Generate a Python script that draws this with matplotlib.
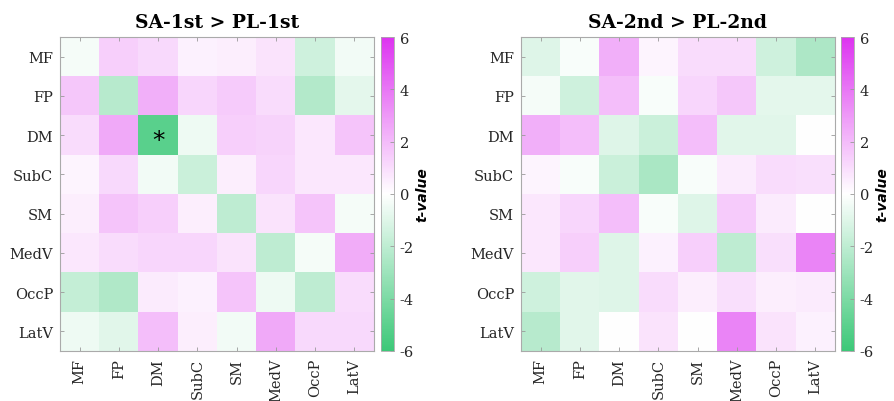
import numpy as np
import matplotlib
matplotlib.use("Agg")
import matplotlib.pyplot as plt
from matplotlib.colors import LinearSegmentedColormap

# network labels
labels = ["MF", "FP", "DM", "SubC", "SM", "MedV", "OccP", "LatV"]

# t-values (rows top->bottom, cols left->right)
t_first = np.array([
    [-0.3, 1.4, 1.1, 0.4, 0.5, 0.8, -1.5, -0.4],
    [1.6, -2.2, 2.3, 1.2, 1.5, 1.0, -2.3, -0.8],
    [1.0, 2.5, -5.1, -0.5, 1.4, 1.3, 0.7, 1.7],
    [0.3, 1.1, -0.4, -1.6, 0.5, 1.2, 0.7, 0.7],
    [0.5, 1.7, 1.4, 0.5, -2.0, 0.8, 1.7, -0.3],
    [0.7, 1.0, 1.2, 1.2, 0.8, -2.0, -0.3, 2.4],
    [-1.8, -2.4, 0.6, 0.4, 1.7, -0.5, -2.0, 1.0],
    [-0.5, -0.9, 1.9, 0.5, -0.4, 2.5, 1.1, 1.1],
])
t_second = np.array([
    [-1.0, -0.2, 2.3, 0.3, 1.0, 1.0, -1.5, -2.5],
    [-0.3, -1.5, 1.9, -0.2, 1.2, 1.6, -0.8, -0.8],
    [2.3, 1.9, -1.0, -1.6, 1.9, -0.9, -0.9, 0.0],
    [0.3, -0.2, -1.6, -2.6, -0.2, 0.6, 1.0, 0.9],
    [0.7, 1.2, 1.9, -0.2, -1.0, 1.5, 0.6, 0.0],
    [0.7, 1.4, -1.0, 0.4, 1.4, -2.0, 0.9, 3.6],
    [-1.5, -0.9, -1.0, 1.0, 0.5, 0.9, 0.5, 0.6],
    [-2.2, -0.9, 0.0, 0.8, 0.0, 3.6, 0.8, 0.4],
])
titles = ["SA-1st > PL-1st", "SA-2nd > PL-2nd"]
cbar_ticks = [-6, -4, -2, 0, 2, 4, 6]
# significant cells (row, col) per panel
stars = [[(2, 2)], []]

cmap = LinearSegmentedColormap.from_list(
    "gwm", ["#3cc878", "#ffffff", "#dd33f0"])

serif = "DejaVu Serif"
fig = plt.figure(figsize=(8.94, 4.02), dpi=100)

ax_x = [60 / 894, 521 / 894]
cb_x = [381 / 894, 841 / 894]
bottom = 50 / 402
height = 314 / 402

for k, data in enumerate([t_first, t_second]):
    ax = fig.add_axes([ax_x[k], bottom, 314 / 894, height])
    im = ax.imshow(data, cmap=cmap, vmin=-6, vmax=6, aspect="auto")
    ax.set_xticks(range(8))
    ax.set_yticks(range(8))
    ax.set_xticklabels(labels, rotation=90, fontfamily=serif, fontsize=10.5,
                       color="#262626")
    ax.set_yticklabels(labels, fontfamily=serif, fontsize=10.5, color="#262626")
    ax.tick_params(direction="in", length=3, width=0.6, color="#999999",
                   top=True, right=True, pad=5)
    for s in ax.spines.values():
        s.set_color("#aaaaaa")
        s.set_linewidth(0.8)
    ax.set_title(titles[k], fontfamily=serif, fontweight="bold",
                 fontsize=13.5, pad=7)
    for (r, c) in stars[k]:
        ax.text(c, r + 0.12, "*", ha="center", va="center", fontsize=18,
                color="black")

    cax = fig.add_axes([cb_x[k], bottom, 13 / 894, height])
    cb = fig.colorbar(im, cax=cax, ticks=cbar_ticks)
    cb.outline.set_edgecolor("#aaaaaa")
    cb.outline.set_linewidth(0.6)
    cax.tick_params(direction="in", length=3, width=0.6, color="#999999",
                    pad=4)
    cax.set_yticklabels([str(t) for t in cbar_ticks], fontfamily=serif,
                        fontsize=10.5, color="#262626")
    cb.set_label("t-value", fontweight="bold", style="italic", fontsize=10,
                 labelpad=1)

fig.savefig("out.png", dpi=100)
